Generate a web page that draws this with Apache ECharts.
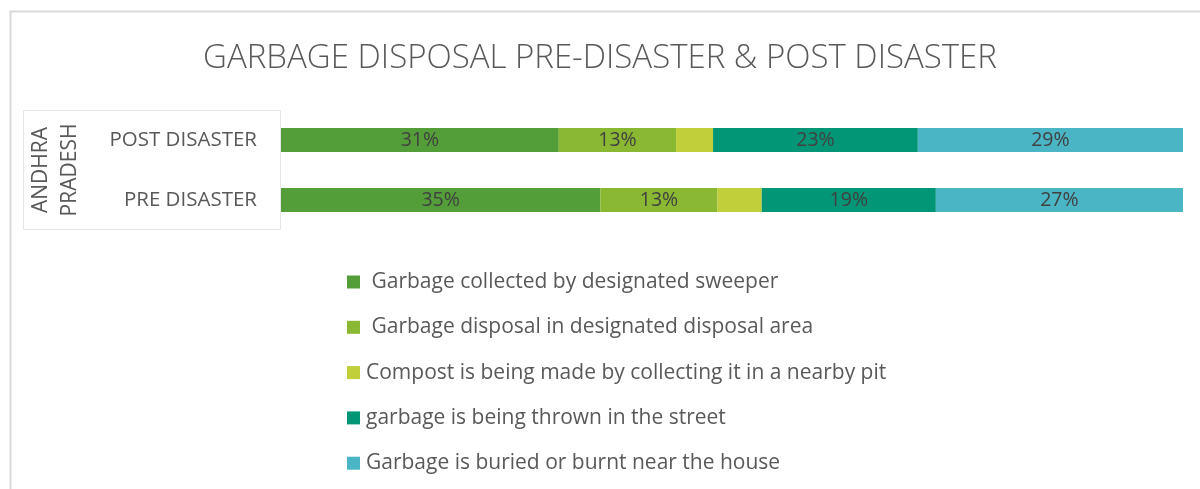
<!DOCTYPE html>
<html><head><meta charset="utf-8">
<script src="https://cdn.jsdelivr.net/npm/echarts@6/dist/echarts.min.js"></script>
<style>html,body{margin:0;padding:0;background:#fff}#c{width:1200px;height:489px}</style>
</head><body><div id="c"></div>
<script>
const titleText = 'GARBAGE DISPOSAL PRE-DISASTER & POST DISASTER';
const categories = ['PRE DISASTER', 'POST DISASTER'];
const groupLabel = ['ANDHRA', 'PRADESH'];
const seriesNames = [
  ' Garbage collected by designated sweeper',
  ' Garbage disposal in designated disposal area',
  'Compost is being made by collecting it in a nearby pit',
  'garbage is being thrown in the street',
  'Garbage is buried or burnt near the house'
];
// values per series: [PRE, POST]
const sweeper = [35.4, 30.8];
const disposalArea = [13.0, 13.0];
const compost = [4.9, 4.1];
const street = [19.3, 22.7];
const buried = [27.4, 29.4];
const colors = ['#549E39', '#8AB833', '#C0CF3A', '#029676', '#4AB5C4'];
const showLabels = [true, true, false, true, true];

const seriesData = [sweeper, disposalArea, compost, street, buried];
const font = '"Open Sans", "Noto Sans", sans-serif';

const chart = echarts.init(document.getElementById('c'));
chart.setOption({
  animation: false,
  backgroundColor: '#fff',
  title: {
    text: titleText, left: 'center', top: 37,
    textStyle: { fontFamily: font, fontWeight: 300, fontSize: 33, color: '#595959' }
  },
  grid: { left: 281, right: 17, top: 110, height: 120, containLabel: false },
  xAxis: { type: 'value', min: 0, max: 100, show: false },
  yAxis: {
    type: 'category', data: categories,
    axisLine: { show: false }, axisTick: { show: false },
    axisLabel: { fontFamily: font, fontSize: 20.5, color: '#595959', margin: 24 }
  },
  legend: {
    orient: 'vertical', left: 347, top: 270, padding: 0,
    itemWidth: 13, itemHeight: 13, itemGap: 21.3, icon: 'rect',
    textStyle: { fontFamily: font, fontSize: 21, color: '#595959', lineHeight: 24, padding: [0, 0, 0, 1] },
    data: seriesNames
  },
  series: seriesNames.map((n, i) => ({
    name: n, type: 'bar', stack: 'total', barWidth: 24,
    itemStyle: { color: colors[i] },
    label: {
      show: showLabels[i], position: 'inside',
      fontFamily: font, fontSize: 19.5, color: '#404040',
      formatter: p => Math.round(p.value) + '%'
    },
    data: seriesData[i]
  })),
  graphic: [
    { type: 'rect', silent: true, shape: { x: 10.5, y: 11.5, width: 1300, height: 600 },
      style: { fill: 'none', stroke: '#d9d9d9', lineWidth: 2 } },
    { type: 'rect', silent: true, shape: { x: 23.5, y: 110.5, width: 257, height: 119 },
      style: { fill: 'none', stroke: '#e6e6e6', lineWidth: 1 } },
    { type: 'text', silent: true, x: 41, y: 170, rotation: Math.PI / 2,
      style: { text: groupLabel[0], fontFamily: font, fontSize: 21, fill: '#595959', align: 'center', verticalAlign: 'middle' } },
    { type: 'text', silent: true, x: 70, y: 170, rotation: Math.PI / 2,
      style: { text: groupLabel[1], fontFamily: font, fontSize: 21, fill: '#595959', align: 'center', verticalAlign: 'middle' } }
  ]
});
</script></body></html>
